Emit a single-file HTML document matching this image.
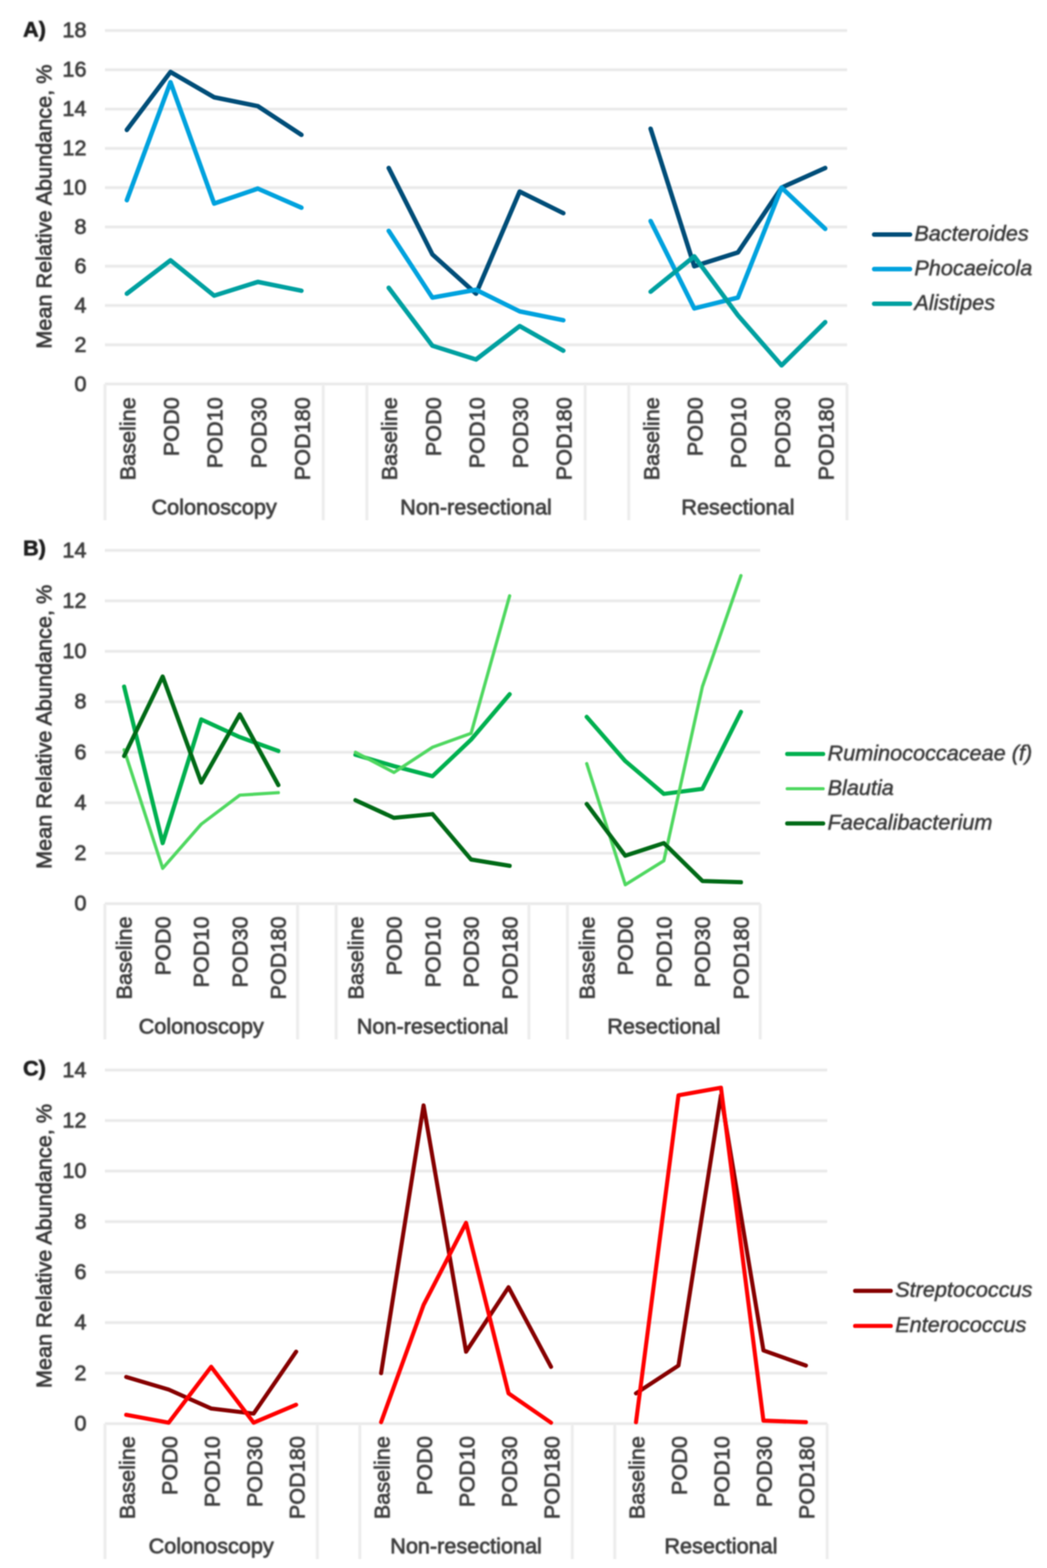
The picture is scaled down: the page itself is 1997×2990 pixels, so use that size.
<!DOCTYPE html>
<html lang="en"><head><meta charset="utf-8"><title>Mean Relative Abundance</title>
<style>html,body{margin:0;padding:0;background:#fff}body{width:1997px;height:2990px;overflow:hidden}svg{display:block}
text{font-family:"Liberation Sans", sans-serif;font-size:41.3px;fill:#3e3e3e;stroke:#3e3e3e;stroke-width:1.4px;stroke-linejoin:round}
.b{font-weight:bold;fill:#1a1a1a;stroke:#1a1a1a;stroke-width:1px}.i{font-style:italic;fill:#383838;stroke:#383838;stroke-width:0.9px}.t{fill:#383838;stroke:#383838}
.s{fill:none;stroke-linecap:round;stroke-linejoin:round}
</style></head><body>
<svg width="1997" height="2990" viewBox="0 0 1997 2990">
<defs>
<filter id="bg" filterUnits="userSpaceOnUse" x="0" y="0" width="1997" height="2990"><feGaussianBlur stdDeviation="0.9"/></filter>
<filter id="bt" filterUnits="userSpaceOnUse" x="0" y="0" width="1997" height="2990"><feGaussianBlur stdDeviation="1.6"/></filter>
<filter id="bl" filterUnits="userSpaceOnUse" x="0" y="0" width="1997" height="2990"><feGaussianBlur stdDeviation="1.3"/></filter>
</defs>
<rect width="1997" height="2990" fill="#fff"/>
<g filter="url(#bg)">
<line x1="200.3" y1="732.3" x2="1615.6" y2="732.3" stroke="#f7f7f7" stroke-width="7.6"/>
<line x1="200.3" y1="657.4" x2="1615.6" y2="657.4" stroke="#f7f7f7" stroke-width="7.6"/>
<line x1="200.3" y1="582.5" x2="1615.6" y2="582.5" stroke="#f7f7f7" stroke-width="7.6"/>
<line x1="200.3" y1="507.6" x2="1615.6" y2="507.6" stroke="#f7f7f7" stroke-width="7.6"/>
<line x1="200.3" y1="432.7" x2="1615.6" y2="432.7" stroke="#f7f7f7" stroke-width="7.6"/>
<line x1="200.3" y1="357.8" x2="1615.6" y2="357.8" stroke="#f7f7f7" stroke-width="7.6"/>
<line x1="200.3" y1="282.9" x2="1615.6" y2="282.9" stroke="#f7f7f7" stroke-width="7.6"/>
<line x1="200.3" y1="208" x2="1615.6" y2="208" stroke="#f7f7f7" stroke-width="7.6"/>
<line x1="200.3" y1="133.1" x2="1615.6" y2="133.1" stroke="#f7f7f7" stroke-width="7.6"/>
<line x1="200.3" y1="58.2" x2="1615.6" y2="58.2" stroke="#f7f7f7" stroke-width="7.6"/>
<line x1="200.3" y1="732.3" x2="200.3" y2="992" stroke="#f7f7f7" stroke-width="7.6"/>
<line x1="616.56" y1="732.3" x2="616.56" y2="992" stroke="#f7f7f7" stroke-width="7.6"/>
<line x1="699.82" y1="732.3" x2="699.82" y2="992" stroke="#f7f7f7" stroke-width="7.6"/>
<line x1="1116.08" y1="732.3" x2="1116.08" y2="992" stroke="#f7f7f7" stroke-width="7.6"/>
<line x1="1199.34" y1="732.3" x2="1199.34" y2="992" stroke="#f7f7f7" stroke-width="7.6"/>
<line x1="1615.6" y1="732.3" x2="1615.6" y2="992" stroke="#f7f7f7" stroke-width="7.6"/>
<line x1="200" y1="1723.2" x2="1450" y2="1723.2" stroke="#f7f7f7" stroke-width="7.6"/>
<line x1="200" y1="1626.96" x2="1450" y2="1626.96" stroke="#f7f7f7" stroke-width="7.6"/>
<line x1="200" y1="1530.71" x2="1450" y2="1530.71" stroke="#f7f7f7" stroke-width="7.6"/>
<line x1="200" y1="1434.47" x2="1450" y2="1434.47" stroke="#f7f7f7" stroke-width="7.6"/>
<line x1="200" y1="1338.23" x2="1450" y2="1338.23" stroke="#f7f7f7" stroke-width="7.6"/>
<line x1="200" y1="1241.99" x2="1450" y2="1241.99" stroke="#f7f7f7" stroke-width="7.6"/>
<line x1="200" y1="1145.74" x2="1450" y2="1145.74" stroke="#f7f7f7" stroke-width="7.6"/>
<line x1="200" y1="1049.5" x2="1450" y2="1049.5" stroke="#f7f7f7" stroke-width="7.6"/>
<line x1="200" y1="1723.2" x2="200" y2="1982" stroke="#f7f7f7" stroke-width="7.6"/>
<line x1="567.65" y1="1723.2" x2="567.65" y2="1982" stroke="#f7f7f7" stroke-width="7.6"/>
<line x1="641.18" y1="1723.2" x2="641.18" y2="1982" stroke="#f7f7f7" stroke-width="7.6"/>
<line x1="1008.82" y1="1723.2" x2="1008.82" y2="1982" stroke="#f7f7f7" stroke-width="7.6"/>
<line x1="1082.35" y1="1723.2" x2="1082.35" y2="1982" stroke="#f7f7f7" stroke-width="7.6"/>
<line x1="1450" y1="1723.2" x2="1450" y2="1982" stroke="#f7f7f7" stroke-width="7.6"/>
<line x1="200.2" y1="2714.8" x2="1577.7" y2="2714.8" stroke="#f7f7f7" stroke-width="7.6"/>
<line x1="200.2" y1="2618.46" x2="1577.7" y2="2618.46" stroke="#f7f7f7" stroke-width="7.6"/>
<line x1="200.2" y1="2522.11" x2="1577.7" y2="2522.11" stroke="#f7f7f7" stroke-width="7.6"/>
<line x1="200.2" y1="2425.77" x2="1577.7" y2="2425.77" stroke="#f7f7f7" stroke-width="7.6"/>
<line x1="200.2" y1="2329.43" x2="1577.7" y2="2329.43" stroke="#f7f7f7" stroke-width="7.6"/>
<line x1="200.2" y1="2233.09" x2="1577.7" y2="2233.09" stroke="#f7f7f7" stroke-width="7.6"/>
<line x1="200.2" y1="2136.74" x2="1577.7" y2="2136.74" stroke="#f7f7f7" stroke-width="7.6"/>
<line x1="200.2" y1="2040.4" x2="1577.7" y2="2040.4" stroke="#f7f7f7" stroke-width="7.6"/>
<line x1="200.2" y1="2714.8" x2="200.2" y2="2973" stroke="#f7f7f7" stroke-width="7.6"/>
<line x1="605.35" y1="2714.8" x2="605.35" y2="2973" stroke="#f7f7f7" stroke-width="7.6"/>
<line x1="686.38" y1="2714.8" x2="686.38" y2="2973" stroke="#f7f7f7" stroke-width="7.6"/>
<line x1="1091.52" y1="2714.8" x2="1091.52" y2="2973" stroke="#f7f7f7" stroke-width="7.6"/>
<line x1="1172.55" y1="2714.8" x2="1172.55" y2="2973" stroke="#f7f7f7" stroke-width="7.6"/>
<line x1="1577.7" y1="2714.8" x2="1577.7" y2="2973" stroke="#f7f7f7" stroke-width="7.6"/>
<line x1="200.3" y1="732.3" x2="1615.6" y2="732.3" stroke="#e9e9e9" stroke-width="4.0"/>
<line x1="200.3" y1="657.4" x2="1615.6" y2="657.4" stroke="#e9e9e9" stroke-width="4.0"/>
<line x1="200.3" y1="582.5" x2="1615.6" y2="582.5" stroke="#e9e9e9" stroke-width="4.0"/>
<line x1="200.3" y1="507.6" x2="1615.6" y2="507.6" stroke="#e9e9e9" stroke-width="4.0"/>
<line x1="200.3" y1="432.7" x2="1615.6" y2="432.7" stroke="#e9e9e9" stroke-width="4.0"/>
<line x1="200.3" y1="357.8" x2="1615.6" y2="357.8" stroke="#e9e9e9" stroke-width="4.0"/>
<line x1="200.3" y1="282.9" x2="1615.6" y2="282.9" stroke="#e9e9e9" stroke-width="4.0"/>
<line x1="200.3" y1="208" x2="1615.6" y2="208" stroke="#e9e9e9" stroke-width="4.0"/>
<line x1="200.3" y1="133.1" x2="1615.6" y2="133.1" stroke="#e9e9e9" stroke-width="4.0"/>
<line x1="200.3" y1="58.2" x2="1615.6" y2="58.2" stroke="#e9e9e9" stroke-width="4.0"/>
<line x1="200.3" y1="732.3" x2="200.3" y2="992" stroke="#ececec" stroke-width="4.0"/>
<line x1="616.56" y1="732.3" x2="616.56" y2="992" stroke="#ececec" stroke-width="4.0"/>
<line x1="699.82" y1="732.3" x2="699.82" y2="992" stroke="#ececec" stroke-width="4.0"/>
<line x1="1116.08" y1="732.3" x2="1116.08" y2="992" stroke="#ececec" stroke-width="4.0"/>
<line x1="1199.34" y1="732.3" x2="1199.34" y2="992" stroke="#ececec" stroke-width="4.0"/>
<line x1="1615.6" y1="732.3" x2="1615.6" y2="992" stroke="#ececec" stroke-width="4.0"/>
<line x1="200" y1="1723.2" x2="1450" y2="1723.2" stroke="#e9e9e9" stroke-width="4.0"/>
<line x1="200" y1="1626.96" x2="1450" y2="1626.96" stroke="#e9e9e9" stroke-width="4.0"/>
<line x1="200" y1="1530.71" x2="1450" y2="1530.71" stroke="#e9e9e9" stroke-width="4.0"/>
<line x1="200" y1="1434.47" x2="1450" y2="1434.47" stroke="#e9e9e9" stroke-width="4.0"/>
<line x1="200" y1="1338.23" x2="1450" y2="1338.23" stroke="#e9e9e9" stroke-width="4.0"/>
<line x1="200" y1="1241.99" x2="1450" y2="1241.99" stroke="#e9e9e9" stroke-width="4.0"/>
<line x1="200" y1="1145.74" x2="1450" y2="1145.74" stroke="#e9e9e9" stroke-width="4.0"/>
<line x1="200" y1="1049.5" x2="1450" y2="1049.5" stroke="#e9e9e9" stroke-width="4.0"/>
<line x1="200" y1="1723.2" x2="200" y2="1982" stroke="#ececec" stroke-width="4.0"/>
<line x1="567.65" y1="1723.2" x2="567.65" y2="1982" stroke="#ececec" stroke-width="4.0"/>
<line x1="641.18" y1="1723.2" x2="641.18" y2="1982" stroke="#ececec" stroke-width="4.0"/>
<line x1="1008.82" y1="1723.2" x2="1008.82" y2="1982" stroke="#ececec" stroke-width="4.0"/>
<line x1="1082.35" y1="1723.2" x2="1082.35" y2="1982" stroke="#ececec" stroke-width="4.0"/>
<line x1="1450" y1="1723.2" x2="1450" y2="1982" stroke="#ececec" stroke-width="4.0"/>
<line x1="200.2" y1="2714.8" x2="1577.7" y2="2714.8" stroke="#e9e9e9" stroke-width="4.0"/>
<line x1="200.2" y1="2618.46" x2="1577.7" y2="2618.46" stroke="#e9e9e9" stroke-width="4.0"/>
<line x1="200.2" y1="2522.11" x2="1577.7" y2="2522.11" stroke="#e9e9e9" stroke-width="4.0"/>
<line x1="200.2" y1="2425.77" x2="1577.7" y2="2425.77" stroke="#e9e9e9" stroke-width="4.0"/>
<line x1="200.2" y1="2329.43" x2="1577.7" y2="2329.43" stroke="#e9e9e9" stroke-width="4.0"/>
<line x1="200.2" y1="2233.09" x2="1577.7" y2="2233.09" stroke="#e9e9e9" stroke-width="4.0"/>
<line x1="200.2" y1="2136.74" x2="1577.7" y2="2136.74" stroke="#e9e9e9" stroke-width="4.0"/>
<line x1="200.2" y1="2040.4" x2="1577.7" y2="2040.4" stroke="#e9e9e9" stroke-width="4.0"/>
<line x1="200.2" y1="2714.8" x2="200.2" y2="2973" stroke="#ececec" stroke-width="4.0"/>
<line x1="605.35" y1="2714.8" x2="605.35" y2="2973" stroke="#ececec" stroke-width="4.0"/>
<line x1="686.38" y1="2714.8" x2="686.38" y2="2973" stroke="#ececec" stroke-width="4.0"/>
<line x1="1091.52" y1="2714.8" x2="1091.52" y2="2973" stroke="#ececec" stroke-width="4.0"/>
<line x1="1172.55" y1="2714.8" x2="1172.55" y2="2973" stroke="#ececec" stroke-width="4.0"/>
<line x1="1577.7" y1="2714.8" x2="1577.7" y2="2973" stroke="#ececec" stroke-width="4.0"/>
</g>
<g filter="url(#bt)">
<text x="165" y="745.5" text-anchor="end">0</text>
<text x="165" y="670.6" text-anchor="end">2</text>
<text x="165" y="595.7" text-anchor="end">4</text>
<text x="165" y="520.8" text-anchor="end">6</text>
<text x="165" y="445.9" text-anchor="end">8</text>
<text x="165" y="371" text-anchor="end">10</text>
<text x="165" y="296.1" text-anchor="end">12</text>
<text x="165" y="221.2" text-anchor="end">14</text>
<text x="165" y="146.3" text-anchor="end">16</text>
<text x="165" y="71.4" text-anchor="end">18</text>
<text class="b" x="44" y="70.3">A)</text>
<text class="t" transform="translate(98.3,394) rotate(-90)" text-anchor="middle">Mean Relative Abundance, %</text>
<text transform="translate(257.93,757.5) rotate(-90)" text-anchor="end">Baseline</text>
<text transform="translate(341.18,757.5) rotate(-90)" text-anchor="end">POD0</text>
<text transform="translate(424.43,757.5) rotate(-90)" text-anchor="end">POD10</text>
<text transform="translate(507.69,757.5) rotate(-90)" text-anchor="end">POD30</text>
<text transform="translate(590.94,757.5) rotate(-90)" text-anchor="end">POD180</text>
<text x="408.43" y="980.6" text-anchor="middle">Colonoscopy</text>
<text transform="translate(757.44,757.5) rotate(-90)" text-anchor="end">Baseline</text>
<text transform="translate(840.7,757.5) rotate(-90)" text-anchor="end">POD0</text>
<text transform="translate(923.95,757.5) rotate(-90)" text-anchor="end">POD10</text>
<text transform="translate(1007.2,757.5) rotate(-90)" text-anchor="end">POD30</text>
<text transform="translate(1090.46,757.5) rotate(-90)" text-anchor="end">POD180</text>
<text x="907.95" y="980.6" text-anchor="middle">Non-resectional</text>
<text transform="translate(1256.96,757.5) rotate(-90)" text-anchor="end">Baseline</text>
<text transform="translate(1340.21,757.5) rotate(-90)" text-anchor="end">POD0</text>
<text transform="translate(1423.47,757.5) rotate(-90)" text-anchor="end">POD10</text>
<text transform="translate(1506.72,757.5) rotate(-90)" text-anchor="end">POD30</text>
<text transform="translate(1589.97,757.5) rotate(-90)" text-anchor="end">POD180</text>
<text x="1407.47" y="980.6" text-anchor="middle">Resectional</text>
<text class="i" x="1744" y="459.1">Bacteroides</text>
<text class="i" x="1744" y="524.9">Phocaeicola</text>
<text class="i" x="1744" y="591.1">Alistipes</text>
<text x="165" y="1736.4" text-anchor="end">0</text>
<text x="165" y="1640.16" text-anchor="end">2</text>
<text x="165" y="1543.91" text-anchor="end">4</text>
<text x="165" y="1447.67" text-anchor="end">6</text>
<text x="165" y="1351.43" text-anchor="end">8</text>
<text x="165" y="1255.19" text-anchor="end">10</text>
<text x="165" y="1158.94" text-anchor="end">12</text>
<text x="165" y="1062.7" text-anchor="end">14</text>
<text class="b" x="44" y="1059.3">B)</text>
<text class="t" transform="translate(98.3,1386) rotate(-90)" text-anchor="middle">Mean Relative Abundance, %</text>
<text transform="translate(251.36,1747.5) rotate(-90)" text-anchor="end">Baseline</text>
<text transform="translate(324.89,1747.5) rotate(-90)" text-anchor="end">POD0</text>
<text transform="translate(398.42,1747.5) rotate(-90)" text-anchor="end">POD10</text>
<text transform="translate(471.95,1747.5) rotate(-90)" text-anchor="end">POD30</text>
<text transform="translate(545.48,1747.5) rotate(-90)" text-anchor="end">POD180</text>
<text x="383.82" y="1970.5" text-anchor="middle">Colonoscopy</text>
<text transform="translate(692.54,1747.5) rotate(-90)" text-anchor="end">Baseline</text>
<text transform="translate(766.07,1747.5) rotate(-90)" text-anchor="end">POD0</text>
<text transform="translate(839.6,1747.5) rotate(-90)" text-anchor="end">POD10</text>
<text transform="translate(913.13,1747.5) rotate(-90)" text-anchor="end">POD30</text>
<text transform="translate(986.66,1747.5) rotate(-90)" text-anchor="end">POD180</text>
<text x="825" y="1970.5" text-anchor="middle">Non-resectional</text>
<text transform="translate(1133.72,1747.5) rotate(-90)" text-anchor="end">Baseline</text>
<text transform="translate(1207.25,1747.5) rotate(-90)" text-anchor="end">POD0</text>
<text transform="translate(1280.78,1747.5) rotate(-90)" text-anchor="end">POD10</text>
<text transform="translate(1354.31,1747.5) rotate(-90)" text-anchor="end">POD30</text>
<text transform="translate(1427.84,1747.5) rotate(-90)" text-anchor="end">POD180</text>
<text x="1266.18" y="1970.5" text-anchor="middle">Resectional</text>
<text class="i" x="1578.5" y="1449.6">Ruminococcaceae (f)</text>
<text class="i" x="1578.5" y="1515.8">Blautia</text>
<text class="i" x="1578.5" y="1582">Faecalibacterium</text>
<text x="165" y="2728" text-anchor="end">0</text>
<text x="165" y="2631.66" text-anchor="end">2</text>
<text x="165" y="2535.31" text-anchor="end">4</text>
<text x="165" y="2438.97" text-anchor="end">6</text>
<text x="165" y="2342.63" text-anchor="end">8</text>
<text x="165" y="2246.29" text-anchor="end">10</text>
<text x="165" y="2149.94" text-anchor="end">12</text>
<text x="165" y="2053.6" text-anchor="end">14</text>
<text class="b" x="44" y="2051.3">C)</text>
<text class="t" transform="translate(98.3,2376) rotate(-90)" text-anchor="middle">Mean Relative Abundance, %</text>
<text transform="translate(256.71,2738.5) rotate(-90)" text-anchor="end">Baseline</text>
<text transform="translate(337.74,2738.5) rotate(-90)" text-anchor="end">POD0</text>
<text transform="translate(418.77,2738.5) rotate(-90)" text-anchor="end">POD10</text>
<text transform="translate(499.8,2738.5) rotate(-90)" text-anchor="end">POD30</text>
<text transform="translate(580.83,2738.5) rotate(-90)" text-anchor="end">POD180</text>
<text x="402.77" y="2961.8" text-anchor="middle">Colonoscopy</text>
<text transform="translate(742.89,2738.5) rotate(-90)" text-anchor="end">Baseline</text>
<text transform="translate(823.92,2738.5) rotate(-90)" text-anchor="end">POD0</text>
<text transform="translate(904.95,2738.5) rotate(-90)" text-anchor="end">POD10</text>
<text transform="translate(985.98,2738.5) rotate(-90)" text-anchor="end">POD30</text>
<text transform="translate(1067.01,2738.5) rotate(-90)" text-anchor="end">POD180</text>
<text x="888.95" y="2961.8" text-anchor="middle">Non-resectional</text>
<text transform="translate(1229.07,2738.5) rotate(-90)" text-anchor="end">Baseline</text>
<text transform="translate(1310.1,2738.5) rotate(-90)" text-anchor="end">POD0</text>
<text transform="translate(1391.13,2738.5) rotate(-90)" text-anchor="end">POD10</text>
<text transform="translate(1472.16,2738.5) rotate(-90)" text-anchor="end">POD30</text>
<text transform="translate(1553.19,2738.5) rotate(-90)" text-anchor="end">POD180</text>
<text x="1375.13" y="2961.8" text-anchor="middle">Resectional</text>
<text class="i" x="1707.5" y="2473.3">Streptococcus</text>
<text class="i" x="1707.5" y="2540.2">Enterococcus</text>
</g>
<g filter="url(#bl)">
<polyline class="s" stroke="#004e78" stroke-width="8.6" points="241.93,247.7 325.18,137.22 408.43,185.53 491.69,202.38 574.94,257.06"/>
<polyline class="s" stroke="#004e78" stroke-width="8.6" points="741.44,320.35 824.7,485.13 907.95,560.03 991.2,365.29 1074.46,406.49"/>
<polyline class="s" stroke="#004e78" stroke-width="8.6" points="1240.96,245.45 1324.21,507.6 1407.47,481.38 1490.72,357.8 1573.97,320.35"/>
<polyline class="s" stroke="#00a2de" stroke-width="8.6" points="241.93,381.77 325.18,156.69 408.43,388.13 491.69,359.67 574.94,396"/>
<polyline class="s" stroke="#00a2de" stroke-width="8.6" points="741.44,440.19 824.7,567.52 907.95,552.54 991.2,593.73 1074.46,610.59"/>
<polyline class="s" stroke="#00a2de" stroke-width="8.6" points="1240.96,421.46 1324.21,588.12 1407.47,567.52 1490.72,357.8 1573.97,436.44"/>
<polyline class="s" stroke="#00a0a0" stroke-width="8.6" points="241.93,560.03 325.18,496.37 408.43,563.77 491.69,537.56 574.94,554.41"/>
<polyline class="s" stroke="#00a0a0" stroke-width="8.6" points="741.44,548.79 824.7,659.27 907.95,685.49 991.2,621.82 1074.46,668.63"/>
<polyline class="s" stroke="#00a0a0" stroke-width="8.6" points="1240.96,556.28 1324.21,488.88 1407.47,601.22 1490.72,696.72 1573.97,614.33"/>
<line class="s" x1="1667.3" y1="447.3" x2="1735.7" y2="447.3" stroke="#004e78" stroke-width="8.6"/>
<line class="s" x1="1667.3" y1="513.1" x2="1735.7" y2="513.1" stroke="#00a2de" stroke-width="8.6"/>
<line class="s" x1="1667.3" y1="579.3" x2="1735.7" y2="579.3" stroke="#00a0a0" stroke-width="8.6"/>
<polyline class="s" stroke="#00b050" stroke-width="8.0" points="236.76,1309.36 310.29,1607.71 383.82,1371.91 457.35,1405.6 530.88,1432.07"/>
<polyline class="s" stroke="#00b050" stroke-width="8.0" points="677.94,1439.28 751.47,1460.94 825,1480.19 898.53,1410.41 972.06,1323.79"/>
<polyline class="s" stroke="#00b050" stroke-width="8.0" points="1119.12,1367.1 1192.65,1451.31 1266.18,1513.87 1339.71,1504.25 1413.24,1357.48"/>
<polyline class="s" stroke="#50d860" stroke-width="6.2" points="236.76,1429.66 310.29,1655.83 383.82,1571.62 457.35,1516.28 530.88,1511.47"/>
<polyline class="s" stroke="#50d860" stroke-width="6.2" points="677.94,1434.47 751.47,1472.97 825,1424.85 898.53,1398.38 972.06,1136.12"/>
<polyline class="s" stroke="#50d860" stroke-width="6.2" points="1119.12,1456.13 1192.65,1687.11 1266.18,1641.39 1339.71,1309.36 1413.24,1097.62"/>
<polyline class="s" stroke="#006a14" stroke-width="8.0" points="236.76,1441.69 310.29,1290.11 383.82,1492.22 457.35,1362.29 530.88,1497.03"/>
<polyline class="s" stroke="#006a14" stroke-width="8.0" points="677.94,1525.9 751.47,1559.59 825,1552.37 898.53,1638.99 972.06,1651.02"/>
<polyline class="s" stroke="#006a14" stroke-width="8.0" points="1119.12,1533.12 1192.65,1631.77 1266.18,1607.71 1339.71,1679.89 1413.24,1682.3"/>
<line class="s" x1="1501.5" y1="1437.8" x2="1570" y2="1437.8" stroke="#00b050" stroke-width="8.0"/>
<line class="s" x1="1501.5" y1="1504" x2="1570" y2="1504" stroke="#50d860" stroke-width="6.2"/>
<line class="s" x1="1501.5" y1="1570.2" x2="1570" y2="1570.2" stroke="#006a14" stroke-width="8.0"/>
<polyline class="s" stroke="#860000" stroke-width="7.8" points="240.71,2625.68 321.74,2649.77 402.77,2685.9 483.8,2695.53 564.83,2577.51"/>
<polyline class="s" stroke="#860000" stroke-width="7.8" points="726.89,2618.46 807.92,2107.84 888.95,2577.51 969.98,2454.67 1051.01,2606.41"/>
<polyline class="s" stroke="#860000" stroke-width="7.8" points="1213.07,2656.99 1294.1,2604.01 1375.13,2088.57 1456.16,2575.1 1537.19,2604.01"/>
<polyline class="s" stroke="#ff0000" stroke-width="7.8" points="240.71,2697.94 321.74,2712.87 402.77,2606.41 483.8,2712.87 564.83,2678.67"/>
<polyline class="s" stroke="#ff0000" stroke-width="7.8" points="726.89,2711.91 807.92,2488.39 888.95,2331.84 969.98,2656.99 1051.01,2712.87"/>
<polyline class="s" stroke="#ff0000" stroke-width="7.8" points="1213.07,2711.91 1294.1,2088.57 1375.13,2074.12 1456.16,2709.02 1537.19,2711.91"/>
<line class="s" x1="1631" y1="2461.5" x2="1699" y2="2461.5" stroke="#860000" stroke-width="7.8"/>
<line class="s" x1="1631" y1="2528.4" x2="1699" y2="2528.4" stroke="#ff0000" stroke-width="7.8"/>
</g>
</svg></body></html>
